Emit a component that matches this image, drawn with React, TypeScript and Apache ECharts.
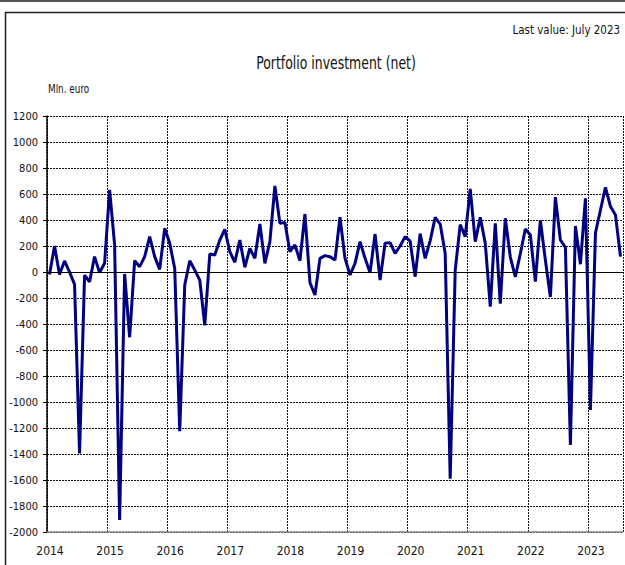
import React, { useEffect, useRef } from "react";
import * as echarts from "echarts";

const startYear = 2014;
const yTicks = { min: -2000, max: 1200, step: 200 };
const monthlyValues: number[] = [
  // 2014
  -20, 200, -20, 85, 0, -95, -1395, -25, -75, 118, -5, 67,
  // 2015
  631, 208, -1908, -15, -502, 87, 41, 118, 272, 118, 20, 336,
  // 2016
  221, 28, -1225, -100, 87, 15, -62, -410, 138, 131, 246, 328,
  // 2017
  156, 75, 246, 36, 182, 105, 369, 67, 233, 662, 374, 380,
  // 2018
  156, 208, 87, 446, -82, -177, 105, 126, 118, 92, 421, 105,
  // 2019
  -23, 67, 233, 105, -5, 292, -62, 221, 226, 144, 200, 272,
  // 2020
  237, -36, 295, 105, 240, 420, 369, 144, -1590, 15, 365, 272,
  // 2021
  640, 233, 420, 221, -267, 374, -244, 413, 115, -38, 140, 331,
  // 2022
  285, -74, 398, 92, -192, 576, 246, 190, -1331, 354, 60, 567,
  // 2023 (Jan - Jul)
  -1061, 300, 477, 651, 503, 438, 118,
];

const titleText = "Portfolio investment (net)";
const lastValueText = "Last value: July 2023";
const unitText = "Mln. euro";

const FONT = "'DejaVu Sans Condensed', 'Liberation Sans', sans-serif";

export default function App() {
  const ref = useRef<HTMLDivElement>(null);
  useEffect(() => {
    if (!ref.current) return;
    const chart = echarts.init(ref.current, undefined, { renderer: "svg" });
    const n = monthlyValues.length;
    const data = monthlyValues.map((v, i) => [i + 0.5, v]);
    chart.setOption({
      animation: false,
      backgroundColor: "#ffffff",
      textStyle: { fontFamily: FONT },
      grid: { left: 47, right: 2, top: 116, bottom: 33, containLabel: false },
      graphic: [
        { type: "line", shape: { x1: 0, y1: 1, x2: 625, y2: 1 }, style: { stroke: "#555", lineWidth: 2 }, silent: true },
        { type: "rect", shape: { x: 5.5, y: 12.5, width: 700, height: 600 }, style: { fill: "none", stroke: "#222", lineWidth: 1.5 }, silent: true },
        { type: "text", x: 620, y: 30, scaleX: 0.88, style: { text: lastValueText, font: `13px ${FONT}`, fill: "#111", align: "right", verticalAlign: "middle" } },
        { type: "text", x: 336, y: 63, scaleX: 0.77, style: { text: titleText, font: `18px ${FONT}`, fill: "#111", align: "center", verticalAlign: "middle" } },
        { type: "text", x: 48, y: 89, scaleX: 0.82, style: { text: unitText, font: `12px ${FONT}`, fill: "#111", verticalAlign: "middle" } },
      ],
      xAxis: {
        type: "value",
        min: 0,
        max: n,
        interval: 12,
        axisLine: { show: true, onZero: false, lineStyle: { color: "#888", width: 1.5 } },
        axisTick: { show: false },
        splitLine: { show: true, lineStyle: { color: "#111", type: [2, 1], width: 1 } },
        axisLabel: {
          color: "#111",
          fontSize: 12,
          fontFamily: FONT,
          margin: 13,
          padding: [0, 0, 0, 6],
          showMaxLabel: false,
          formatter: (v: number) => (v % 12 === 0 ? String(startYear + v / 12) : ""),
        },
      },
      yAxis: {
        type: "value",
        min: yTicks.min,
        max: yTicks.max,
        interval: yTicks.step,
        axisLine: { show: true, onZero: false, lineStyle: { color: "#000", width: 1.5 } },
        axisTick: { show: true, length: 4, lineStyle: { color: "#000" } },
        splitLine: { show: true, lineStyle: { color: "#111", type: [2, 1], width: 1 } },
        axisLabel: { color: "#111", fontSize: 11, fontFamily: FONT, margin: 9, formatter: (v: number) => String(v) },
      },
      series: [
        {
          type: "line",
          data,
          showSymbol: false,
          symbol: "none",
          lineStyle: { color: "#000080", width: 3 },
          markLine: {
            silent: true,
            symbol: "none",
            label: { show: false },
            lineStyle: { color: "#000", type: "solid", width: 1.2 },
            data: [{ yAxis: 0 }],
          },
          z: 3,
        },
      ],
    });
    return () => chart.dispose();
  }, []);
  return (
    <div
      ref={ref}
      style={{ position: "fixed", left: 0, top: 0, width: 625, height: 565 }}
    />
  );
}
